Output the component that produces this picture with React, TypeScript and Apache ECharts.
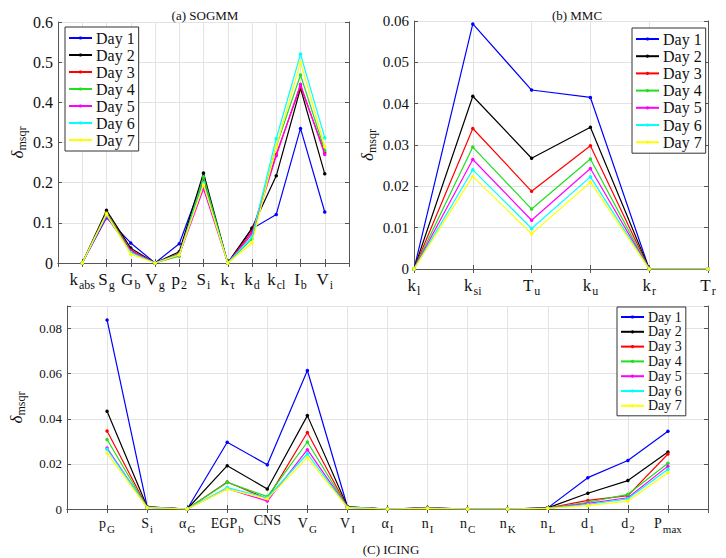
import React, { useEffect, useRef } from "react";
import * as echarts from "echarts";

const dayNames = ["Day 1", "Day 2", "Day 3", "Day 4", "Day 5", "Day 6", "Day 7"];
const dayColors = ["#0000ff", "#000000", "#ff0000", "#22dd22", "#ff00ff", "#00ffff", "#ffff00"];

// (a) SOGMM
const sogmmParams = ["k_abs", "S_g", "G_b", "V_g", "p_2", "S_i", "k_τ", "k_d", "k_cl", "I_b", "V_i"];
const sogmmDay1 = [0, 0.113, 0.05, 0, 0.048, 0.212, 0, 0.085, 0.121, 0.335, 0.127];
const sogmmDay2 = [0, 0.131, 0.037, 0, 0.028, 0.224, 0, 0.087, 0.217, 0.435, 0.222];
const sogmmDay3 = [0, 0.125, 0.032, 0, 0.024, 0.205, 0, 0.078, 0.27, 0.44, 0.275];
const sogmmDay4 = [0, 0.124, 0.028, 0, 0.017, 0.215, 0, 0.06, 0.29, 0.468, 0.28];
const sogmmDay5 = [0, 0.116, 0.03, 0, 0.02, 0.185, 0, 0.072, 0.267, 0.445, 0.27];
const sogmmDay6 = [0, 0.12, 0.026, 0, 0.022, 0.2, 0, 0.065, 0.31, 0.52, 0.312];
const sogmmDay7 = [0, 0.122, 0.022, 0, 0.02, 0.195, 0, 0.05, 0.29, 0.5, 0.29];
const sogmmTicks = [0, 0.1, 0.2, 0.3, 0.4, 0.5, 0.6];

// (b) MMC
const mmcParams = ["k_l", "k_si", "T_u", "k_u", "k_r", "T_r"];
const mmcDay1 = [0, 0.0593, 0.0433, 0.0415, 0, 0];
const mmcDay2 = [0, 0.0418, 0.0268, 0.0343, 0, 0];
const mmcDay3 = [0, 0.034, 0.0188, 0.0298, 0, 0];
const mmcDay4 = [0, 0.0295, 0.0145, 0.0266, 0, 0];
const mmcDay5 = [0, 0.0265, 0.0118, 0.0243, 0, 0];
const mmcDay6 = [0, 0.024, 0.0098, 0.0223, 0, 0];
const mmcDay7 = [0, 0.0224, 0.0085, 0.021, 0, 0];
const mmcTicks = [0, 0.01, 0.02, 0.03, 0.04, 0.05, 0.06];

// (C) ICING
const icingParams = ["p_G", "S_i", "α_G", "EGP_b", "CNS", "V_G", "V_I", "α_I", "n_I", "n_C", "n_K", "n_L", "d_1", "d_2", "P_max"];
const icingDay1 = [0.0838, 0.001, 0, 0.0296, 0.0196, 0.0614, 0.001, 0, 0.0005, 0, 0, 0.0005, 0.0139, 0.0215, 0.0345];
const icingDay2 = [0.0433, 0.001, 0, 0.0192, 0.0089, 0.0414, 0.001, 0, 0.0005, 0, 0, 0.0005, 0.007, 0.0126, 0.0253];
const icingDay3 = [0.0346, 0.0008, 0, 0.012, 0.0045, 0.0339, 0.0008, 0, 0.0004, 0, 0, 0.0004, 0.0038, 0.0059, 0.0244];
const icingDay4 = [0.0308, 0.0008, 0, 0.0118, 0.0055, 0.0297, 0.0008, 0, 0.0004, 0, 0, 0.0004, 0.003, 0.0065, 0.0203];
const icingDay5 = [0.027, 0.0007, 0, 0.009, 0.0035, 0.0263, 0.0007, 0, 0.0003, 0, 0, 0.0003, 0.0025, 0.005, 0.019];
const icingDay6 = [0.0265, 0.0007, 0, 0.0095, 0.005, 0.0245, 0.0007, 0, 0.0003, 0, 0, 0.0003, 0.002, 0.0045, 0.0176];
const icingDay7 = [0.0248, 0.0006, 0, 0.0088, 0.0045, 0.0228, 0.0006, 0, 0.0003, 0, 0, 0.0003, 0.0015, 0.0035, 0.0161];
const icingTicks = [0, 0.02, 0.04, 0.06, 0.08];

const sogmmSeries = [sogmmDay1, sogmmDay2, sogmmDay3, sogmmDay4, sogmmDay5, sogmmDay6, sogmmDay7];
const mmcSeries = [mmcDay1, mmcDay2, mmcDay3, mmcDay4, mmcDay5, mmcDay6, mmcDay7];
const icingSeries = [icingDay1, icingDay2, icingDay3, icingDay4, icingDay5, icingDay6, icingDay7];

const FONT = "'Liberation Serif', 'DejaVu Serif', serif";
const BORDER = "#555";
const GRIDC = "#e3e3e3";

function subLabel(v: string) {
  if (!v) return "";
  const i = v.indexOf("_");
  if (i < 0) return `{m|${v}}`;
  return `{m|${v.slice(0, i)}}{s|${v.slice(i + 1)}}`;
}

function richFor(main: number, sub: number, pad: number) {
  return {
    m: { fontFamily: FONT, fontSize: main, color: "#111" },
    s: { fontFamily: FONT, fontSize: sub, color: "#111", padding: [pad, 0, 0, 1] },
  };
}

function buildPanel(
  gi: number,
  cats: string[],
  offset: number,
  ticks: number[],
  yMax: number,
  main: number,
  sub: number,
  tickFont: number,
  nameGap: number
) {
  const catData = [...(offset ? [""] : []), ...cats, ...(offset ? [""] : [])];
  const interval = ticks[1] - ticks[0];
  const xBottom = {
    type: "category",
    gridIndex: gi,
    data: catData,
    boundaryGap: false,
    position: "bottom",
    axisLine: { lineStyle: { color: BORDER, width: 1 } },
    axisTick: { inside: true, length: 4, interval: 0, lineStyle: { color: BORDER } },
    axisLabel: {
      interval: 0,
      margin: 4,
      formatter: (v: string) => subLabel(v),
      rich: richFor(main, sub, Math.round(main * 0.7)),
    },
    splitLine: { show: true, interval: 0, lineStyle: { color: GRIDC, width: 1 } },
  };
  const xTop = {
    type: "category",
    gridIndex: gi,
    data: catData,
    boundaryGap: false,
    position: "top",
    axisLine: { lineStyle: { color: BORDER, width: 1 } },
    axisTick: { inside: true, length: 4, interval: 0, lineStyle: { color: BORDER } },
    axisLabel: { show: false },
    splitLine: { show: false },
  };
  const yLeft = {
    type: "value",
    gridIndex: gi,
    min: 0,
    max: yMax,
    interval,
    position: "left",
    name: "{d|δ}{s|msqr}",
    nameLocation: "middle",
    nameRotate: 90,
    nameGap,
    nameTextStyle: {
      rich: {
        d: { fontFamily: FONT, fontSize: 17, fontStyle: "italic", color: "#111" },
        s: { fontFamily: FONT, fontSize: 12, color: "#111", padding: [9, 0, 0, 0] },
      },
    },
    axisLine: { show: true, lineStyle: { color: BORDER, width: 1 } },
    axisTick: { show: true, inside: true, length: 4, lineStyle: { color: BORDER } },
    axisLabel: {
      fontFamily: FONT,
      fontSize: tickFont,
      color: "#111",
      margin: 5,
      formatter: (v: number) => {
        const ok = ticks.some((t) => Math.abs(t - v) < 1e-9);
        return ok ? String(parseFloat(v.toFixed(4))) : "";
      },
    },
    splitLine: { show: true, lineStyle: { color: GRIDC, width: 1 } },
  };
  const yRight = {
    type: "value",
    gridIndex: gi,
    min: 0,
    max: yMax,
    interval,
    position: "right",
    axisLine: { show: true, lineStyle: { color: BORDER, width: 1 } },
    axisTick: { show: true, inside: true, length: 4, lineStyle: { color: BORDER } },
    axisLabel: { show: false },
    splitLine: { show: false },
  };
  return { xAxes: [xBottom, xTop], yAxes: [yLeft, yRight] };
}

function makeSeries(all: number[][], axisIndex: number, offset: number) {
  return all.map((vals, k) => ({
    type: "line",
    name: dayNames[k],
    xAxisIndex: axisIndex,
    yAxisIndex: axisIndex,
    data: vals.map((v, i) => [i + offset, v]),
    color: dayColors[k],
    symbol: "circle",
    symbolSize: 3.5,
    showSymbol: true,
    lineStyle: { width: 1.2, color: dayColors[k] },
    itemStyle: { color: dayColors[k] },
    z: 2 + k,
  }));
}

function legendAt(left: number, top: number, fontSize: number, gap: number) {
  return {
    orient: "vertical",
    left,
    top,
    data: dayNames,
    itemWidth: 23,
    itemHeight: 4,
    itemGap: gap,
    padding: [3, 4, 3, 3],
    borderColor: "#333",
    borderWidth: 1,
    backgroundColor: "#fff",
    selectedMode: false,
    textStyle: { fontFamily: FONT, fontSize, lineHeight: fontSize, color: "#111", padding: [0, 0, 0, -1] },
  };
}

export default function App() {
  const ref = useRef<HTMLDivElement>(null);
  useEffect(() => {
    if (!ref.current) return;
    const chart = echarts.init(ref.current, undefined, { renderer: "svg" });
    const pa = buildPanel(0, sogmmParams, 1, sogmmTicks, 0.6, 17, 12, 16, 30);
    const pb = buildPanel(1, mmcParams, 0, mmcTicks, 0.06, 17, 12, 15, 36);
    const pc = buildPanel(2, icingParams, 1, icingTicks, 0.09, 14, 11, 13, 40);
    const option: any = {
      animation: false,
      backgroundColor: "#fff",
      title: [
        { text: "(a) SOGMM", left: 200, top: 4, textAlign: "center", textStyle: { fontFamily: FONT, fontSize: 13, fontWeight: "normal", color: "#111" } },
        { text: "(b) MMC", left: 572, top: 4, textAlign: "center", textStyle: { fontFamily: FONT, fontSize: 13, fontWeight: "normal", color: "#111" } },
        { text: "(C) ICING", left: 386, top: 538, textAlign: "center", textStyle: { fontFamily: FONT, fontSize: 13, fontWeight: "normal", color: "#111" } },
      ],
      grid: [
        { left: 58, top: 22, width: 291, height: 241, show: false },
        { left: 414, top: 21, width: 294, height: 248, show: false },
        { left: 60, top: 306, width: 648, height: 203, show: false },
      ],
      xAxis: [...pa.xAxes, ...pb.xAxes, ...pc.xAxes],
      yAxis: [...pa.yAxes, ...pb.yAxes, ...pc.yAxes],
      legend: [legendAt(65, 27, 16, 1), legendAt(632, 28, 16, 1.2), legendAt(617, 307, 14, 0.8)],
      series: [
        ...makeSeries(sogmmSeries, 0, 1),
        ...makeSeries(mmcSeries, 2, 0),
        ...makeSeries(icingSeries, 4, 1),
      ],
    };
    chart.setOption(option);
    return () => chart.dispose();
  }, []);
  return <div ref={ref} style={{ position: "fixed", left: 0, top: 0, width: 726, height: 558, background: "#fff" }} />;
}
